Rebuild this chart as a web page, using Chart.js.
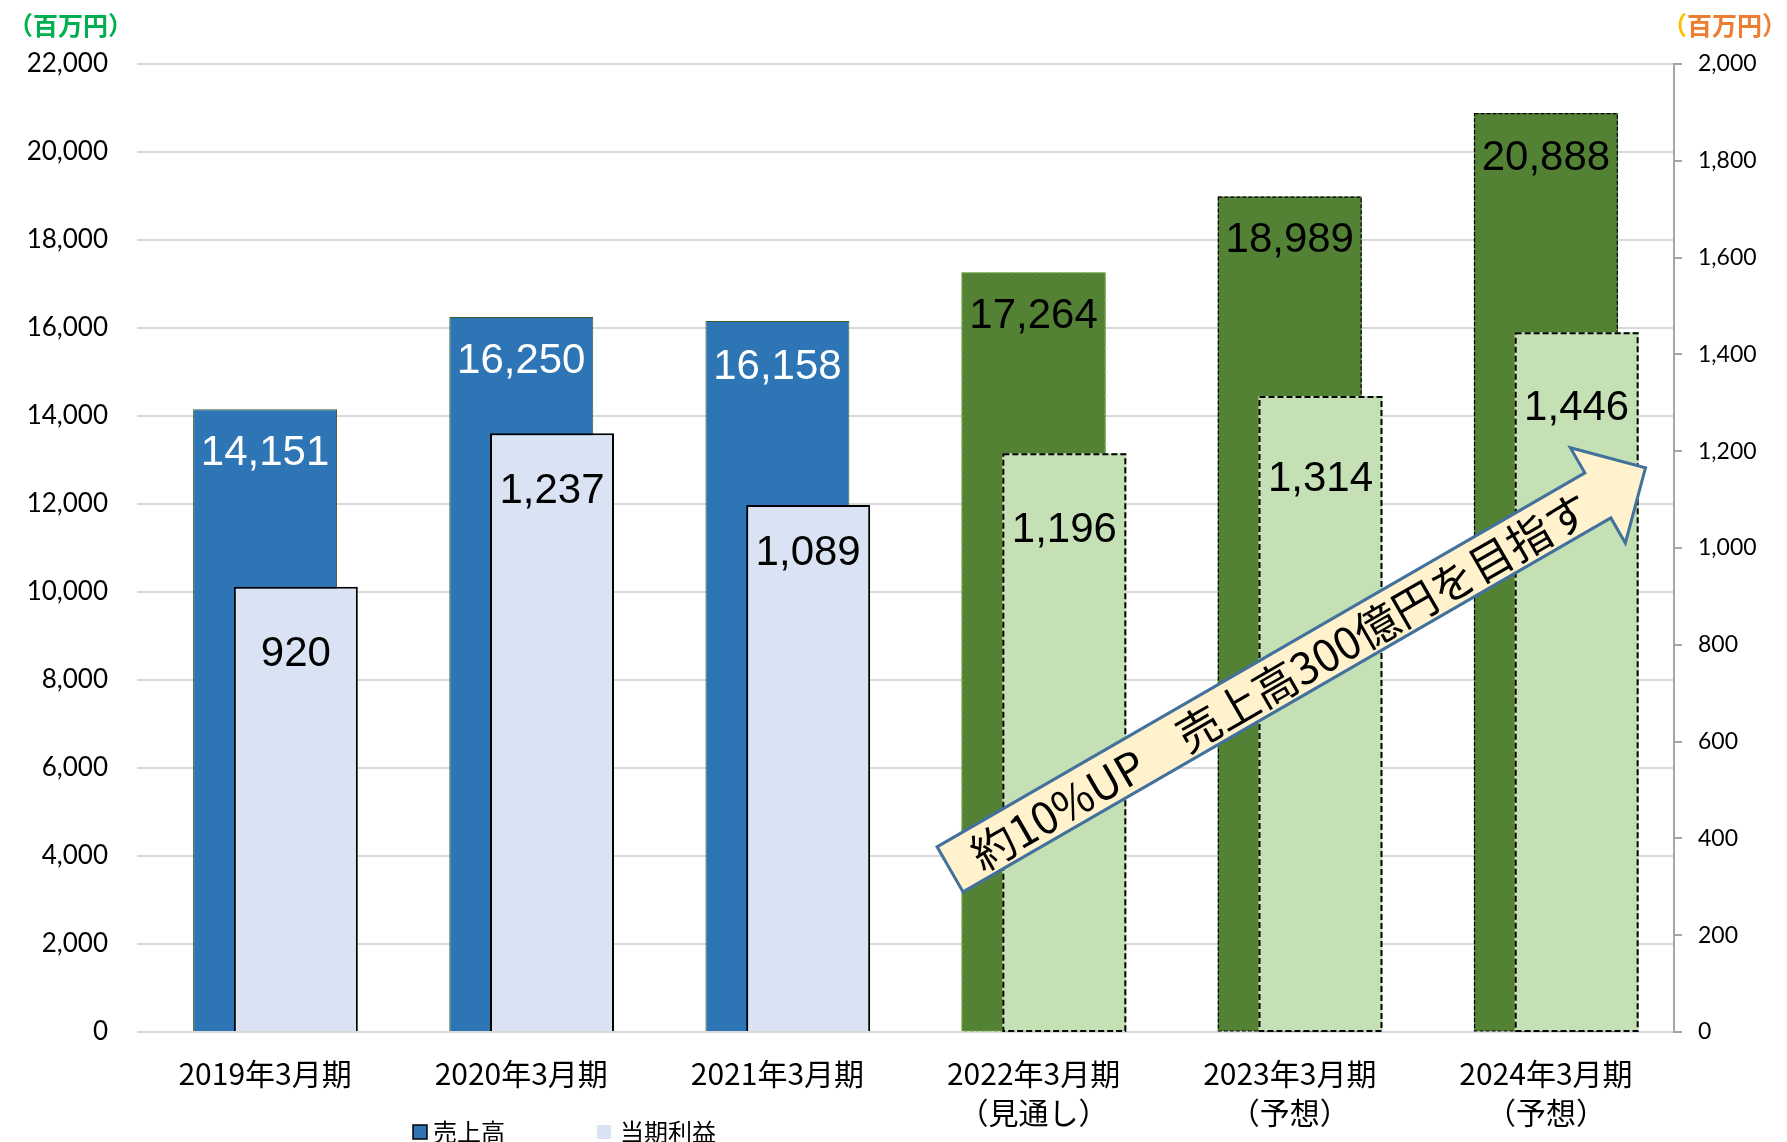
<!DOCTYPE html>
<html lang="ja">
<head>
<meta charset="utf-8">
<title>売上高・当期利益の推移</title>
<script src="https://cdn.jsdelivr.net/npm/chart.js@4.4.1/dist/chart.umd.min.js"></script>
<style>
  html, body { margin: 0; padding: 0; background: #fff; }
  #wrap { width: 1787px; height: 1142px; position: relative; }
</style>
</head>
<body>
<div id="wrap"><canvas id="salesChart"></canvas></div>
<script>
// data
const periods = [
    ['2019年3月期'],
    ['2020年3月期'],
    ['2021年3月期'],
    ['2022年3月期', '（見通し）'],
    ['2023年3月期', '（予想）'],
    ['2024年3月期', '（予想）']
];
const sales = [14151, 16250, 16158, 17264, 18989, 20888];   // 売上高 (百万円, left axis)
const profit = [920, 1237, 1089, 1196, 1314, 1446];          // 当期利益 (百万円, right axis)
const forecastStart = 3;   // from 2022 on: 見通し / 予想
const salesAxisMax = 22000;
const salesAxisStep = 2000;
const profitAxisMax = 2000;
const profitAxisStep = 200;
const legendNames = ['売上高', '当期利益'];
const unitLabel = '（百万円）';
const arrowText = '約10%UP　売上高300億円を目指す';

const BLUE = '#2E75B6';
const LIGHT_BLUE = '#DAE3F3';
const GREEN = '#548235';
const LIGHT_GREEN = '#C5E0B4';
const profitShift = 0.12;   // profit bar sits a bit right of the sales bar

const fmt = v => v.toLocaleString('en-US');

// dashed outline for forecast bars (bars can't do dashes natively)
const dashedBorders = {
    id: 'dashedBorders',
    afterDatasetDraw(chart, args) {
        const ds = chart.data.datasets[args.index];
        if (!ds.dash) return;
        const ctx = chart.ctx;
        args.meta.data.forEach((bar, i) => {
            if (i < forecastStart) return;
            const p = bar.getProps(['x', 'y', 'base', 'width'], true);
            ctx.save();
            ctx.strokeStyle = ds.dash.colors[i - forecastStart];
            ctx.lineWidth = ds.dash.width;
            ctx.setLineDash(ds.dash.pattern);
            const off = ds.dash.width / 2;
            ctx.strokeRect(p.x - p.width / 2 + off, p.y + off, p.width - 2 * off, p.base - p.y - off);
            ctx.restore();
        });
    }
};

// value labels inside the bars
const valueLabels = {
    id: 'valueLabels',
    afterDatasetsDraw(chart) {
        const ctx = chart.ctx;
        ctx.save();
        ctx.font = '42px "Liberation Sans", Arial, sans-serif';
        ctx.textAlign = 'center';
        ctx.textBaseline = 'middle';
        chart.data.datasets.forEach((ds, di) => {
            const meta = chart.getDatasetMeta(di);
            meta.data.forEach((bar, i) => {
                const raw = ds.data[i];
                const v = typeof raw === 'object' ? raw.y : raw;
                ctx.fillStyle = ds.labelColor(i);
                ctx.fillText(fmt(v), bar.x, bar.y + ds.labelDrop[i]);
            });
        });
        ctx.restore();
    }
};

// unit titles, legend and the big arrow
const decor = {
    id: 'decor',
    afterDraw(chart) {
        const ctx = chart.ctx;
        const ca = chart.chartArea;
        ctx.save();

        // unit titles
        ctx.font = 'bold 25px "Noto Sans CJK JP"';
        ctx.textBaseline = 'middle';
        ctx.textAlign = 'left';
        ctx.fillStyle = '#00B050';
        ctx.fillText(unitLabel, 8, 25);

        const rest = unitLabel.slice(1);
        const wRest = ctx.measureText(rest).width;
        const wOpen = ctx.measureText(unitLabel[0]).width;
        const rx = chart.width;
        ctx.fillStyle = '#ED7D31';
        ctx.fillText(rest, rx - wRest, 25);
        ctx.fillStyle = '#FFC000';
        ctx.fillText(unitLabel[0], rx - wRest - wOpen, 25);

        // legend
        ctx.font = '24px "Noto Sans CJK JP"';
        const ly = 1132;
        ctx.fillStyle = BLUE;
        ctx.fillRect(413, ly - 7, 14, 14);
        ctx.strokeStyle = '#000';
        ctx.lineWidth = 1.5;
        ctx.strokeRect(413, ly - 7, 14, 14);
        ctx.fillStyle = '#000';
        ctx.fillText(legendNames[0], 433, ly);
        ctx.fillStyle = LIGHT_BLUE;
        ctx.fillRect(597, ly - 7, 14, 14);
        ctx.fillStyle = '#000';
        ctx.fillText(legendNames[1], 620, ly);

        // arrow
        const tx = ca.left + 0.529 * ca.width;
        const ty = ca.top + 0.832 * ca.height;
        const len = 803, shaft = 26, head = 55, headHalf = 55;
        ctx.translate(tx, ty);
        ctx.rotate(-Math.PI / 6);
        ctx.beginPath();
        ctx.moveTo(0, -shaft);
        ctx.lineTo(len - head, -shaft);
        ctx.lineTo(len - head, -headHalf);
        ctx.lineTo(len, 0);
        ctx.lineTo(len - head, headHalf);
        ctx.lineTo(len - head, shaft);
        ctx.lineTo(0, shaft);
        ctx.closePath();
        ctx.fillStyle = '#FFF2CC';
        ctx.fill();
        ctx.lineWidth = 3;
        ctx.strokeStyle = '#41719C';
        ctx.lineJoin = 'miter';
        ctx.stroke();

        ctx.font = '44px "Noto Sans CJK JP"';
        ctx.textAlign = 'center';
        ctx.fillStyle = '#000';
        ctx.fillText(arrowText, 380, 2);
        ctx.restore();
    }
};

function initializeChart() {
    const ctx = document.getElementById('salesChart').getContext('2d');
    new Chart(ctx, {
        type: 'bar',
        data: {
            labels: periods,
            datasets: [
                {
                    label: legendNames[0],
                    data: sales,
                    xAxisID: 'x',
                    yAxisID: 'y',
                    order: 1,
                    grouped: false,
                    backgroundColor: c => c.dataIndex < forecastStart ? BLUE : GREEN,
                    borderColor: '#3d5c27',
                    borderWidth: c => c.dataIndex < forecastStart ? 1 : 0,
                    borderSkipped: 'start',
                    categoryPercentage: 1,
                    barPercentage: 0.562,
                    dash: { colors: ['#70AD47', '#000', '#000'], width: 1.2, pattern: [4, 2] },
                    labelColor: i => i < forecastStart ? '#fff' : '#000',
                    labelDrop: [44, 44, 46, 44, 44, 45]
                },
                {
                    label: legendNames[1],
                    data: profit.map((v, i) => ({ x: i, y: v })),
                    xAxisID: 'x2',
                    yAxisID: 'y1',
                    order: 0,
                    grouped: false,
                    backgroundColor: c => c.dataIndex < forecastStart ? LIGHT_BLUE : LIGHT_GREEN,
                    borderColor: '#000',
                    borderWidth: c => c.dataIndex < forecastStart ? 2 : 0,
                    borderSkipped: 'start',
                    categoryPercentage: 1,
                    barPercentage: 0.484,
                    dash: { colors: ['#000', '#000', '#000'], width: 2, pattern: [6, 3] },
                    labelColor: () => '#000',
                    labelDrop: [68, 58, 48, 77, 83, 76]
                }
            ]
        },
        options: {
            responsive: true,
            maintainAspectRatio: false,
            animation: false,
            devicePixelRatio: 1,
            locale: 'en-US',
            layout: {
                padding: { left: 26, right: 30, top: 64, bottom: 12 }
            },
            plugins: {
                legend: { display: false },
                tooltip: { enabled: false }
            },
            scales: {
                x: {
                    type: 'category',
                    offset: true,
                    grid: { display: false, drawTicks: false },
                    border: { display: false },
                    afterFit: s => { s.height = 98; },
                    ticks: {
                        color: '#000',
                        padding: 23,
                        maxRotation: 0,
                        autoSkip: false,
                        font: { family: '"Noto Sans CJK JP"', size: 30, lineHeight: 1.27 }
                    }
                },
                x2: {
                    type: 'linear',
                    display: false,
                    offset: false,
                    grid: { offset: false },
                    min: -0.5 - profitShift,
                    max: periods.length - 0.5 - profitShift,
                    ticks: { stepSize: 1 }
                },
                y: {
                    position: 'left',
                    min: 0,
                    max: salesAxisMax,
                    border: { display: false },
                    grid: { color: '#d9d9d9', lineWidth: 2, drawTicks: false },
                    afterFit: s => { s.width = 111; },
                    ticks: {
                        stepSize: salesAxisStep,
                        color: '#000',
                        padding: 29,
                        font: { family: 'Lato', size: 26 }
                    }
                },
                y1: {
                    position: 'right',
                    min: 0,
                    max: profitAxisMax,
                    border: { display: true, color: '#a6a6a6', width: 2 },
                    grid: { drawOnChartArea: false, drawTicks: true, tickLength: 8, color: '#a6a6a6', lineWidth: 2 },
                    afterFit: s => { s.width = 83; },
                    ticks: {
                        stepSize: profitAxisStep,
                        color: '#000',
                        padding: 16,
                        font: { family: 'Lato', size: 23 }
                    }
                }
            }
        },
        plugins: [dashedBorders, valueLabels, decor]
    });
}

window.onload = initializeChart;
</script>
</body>
</html>
